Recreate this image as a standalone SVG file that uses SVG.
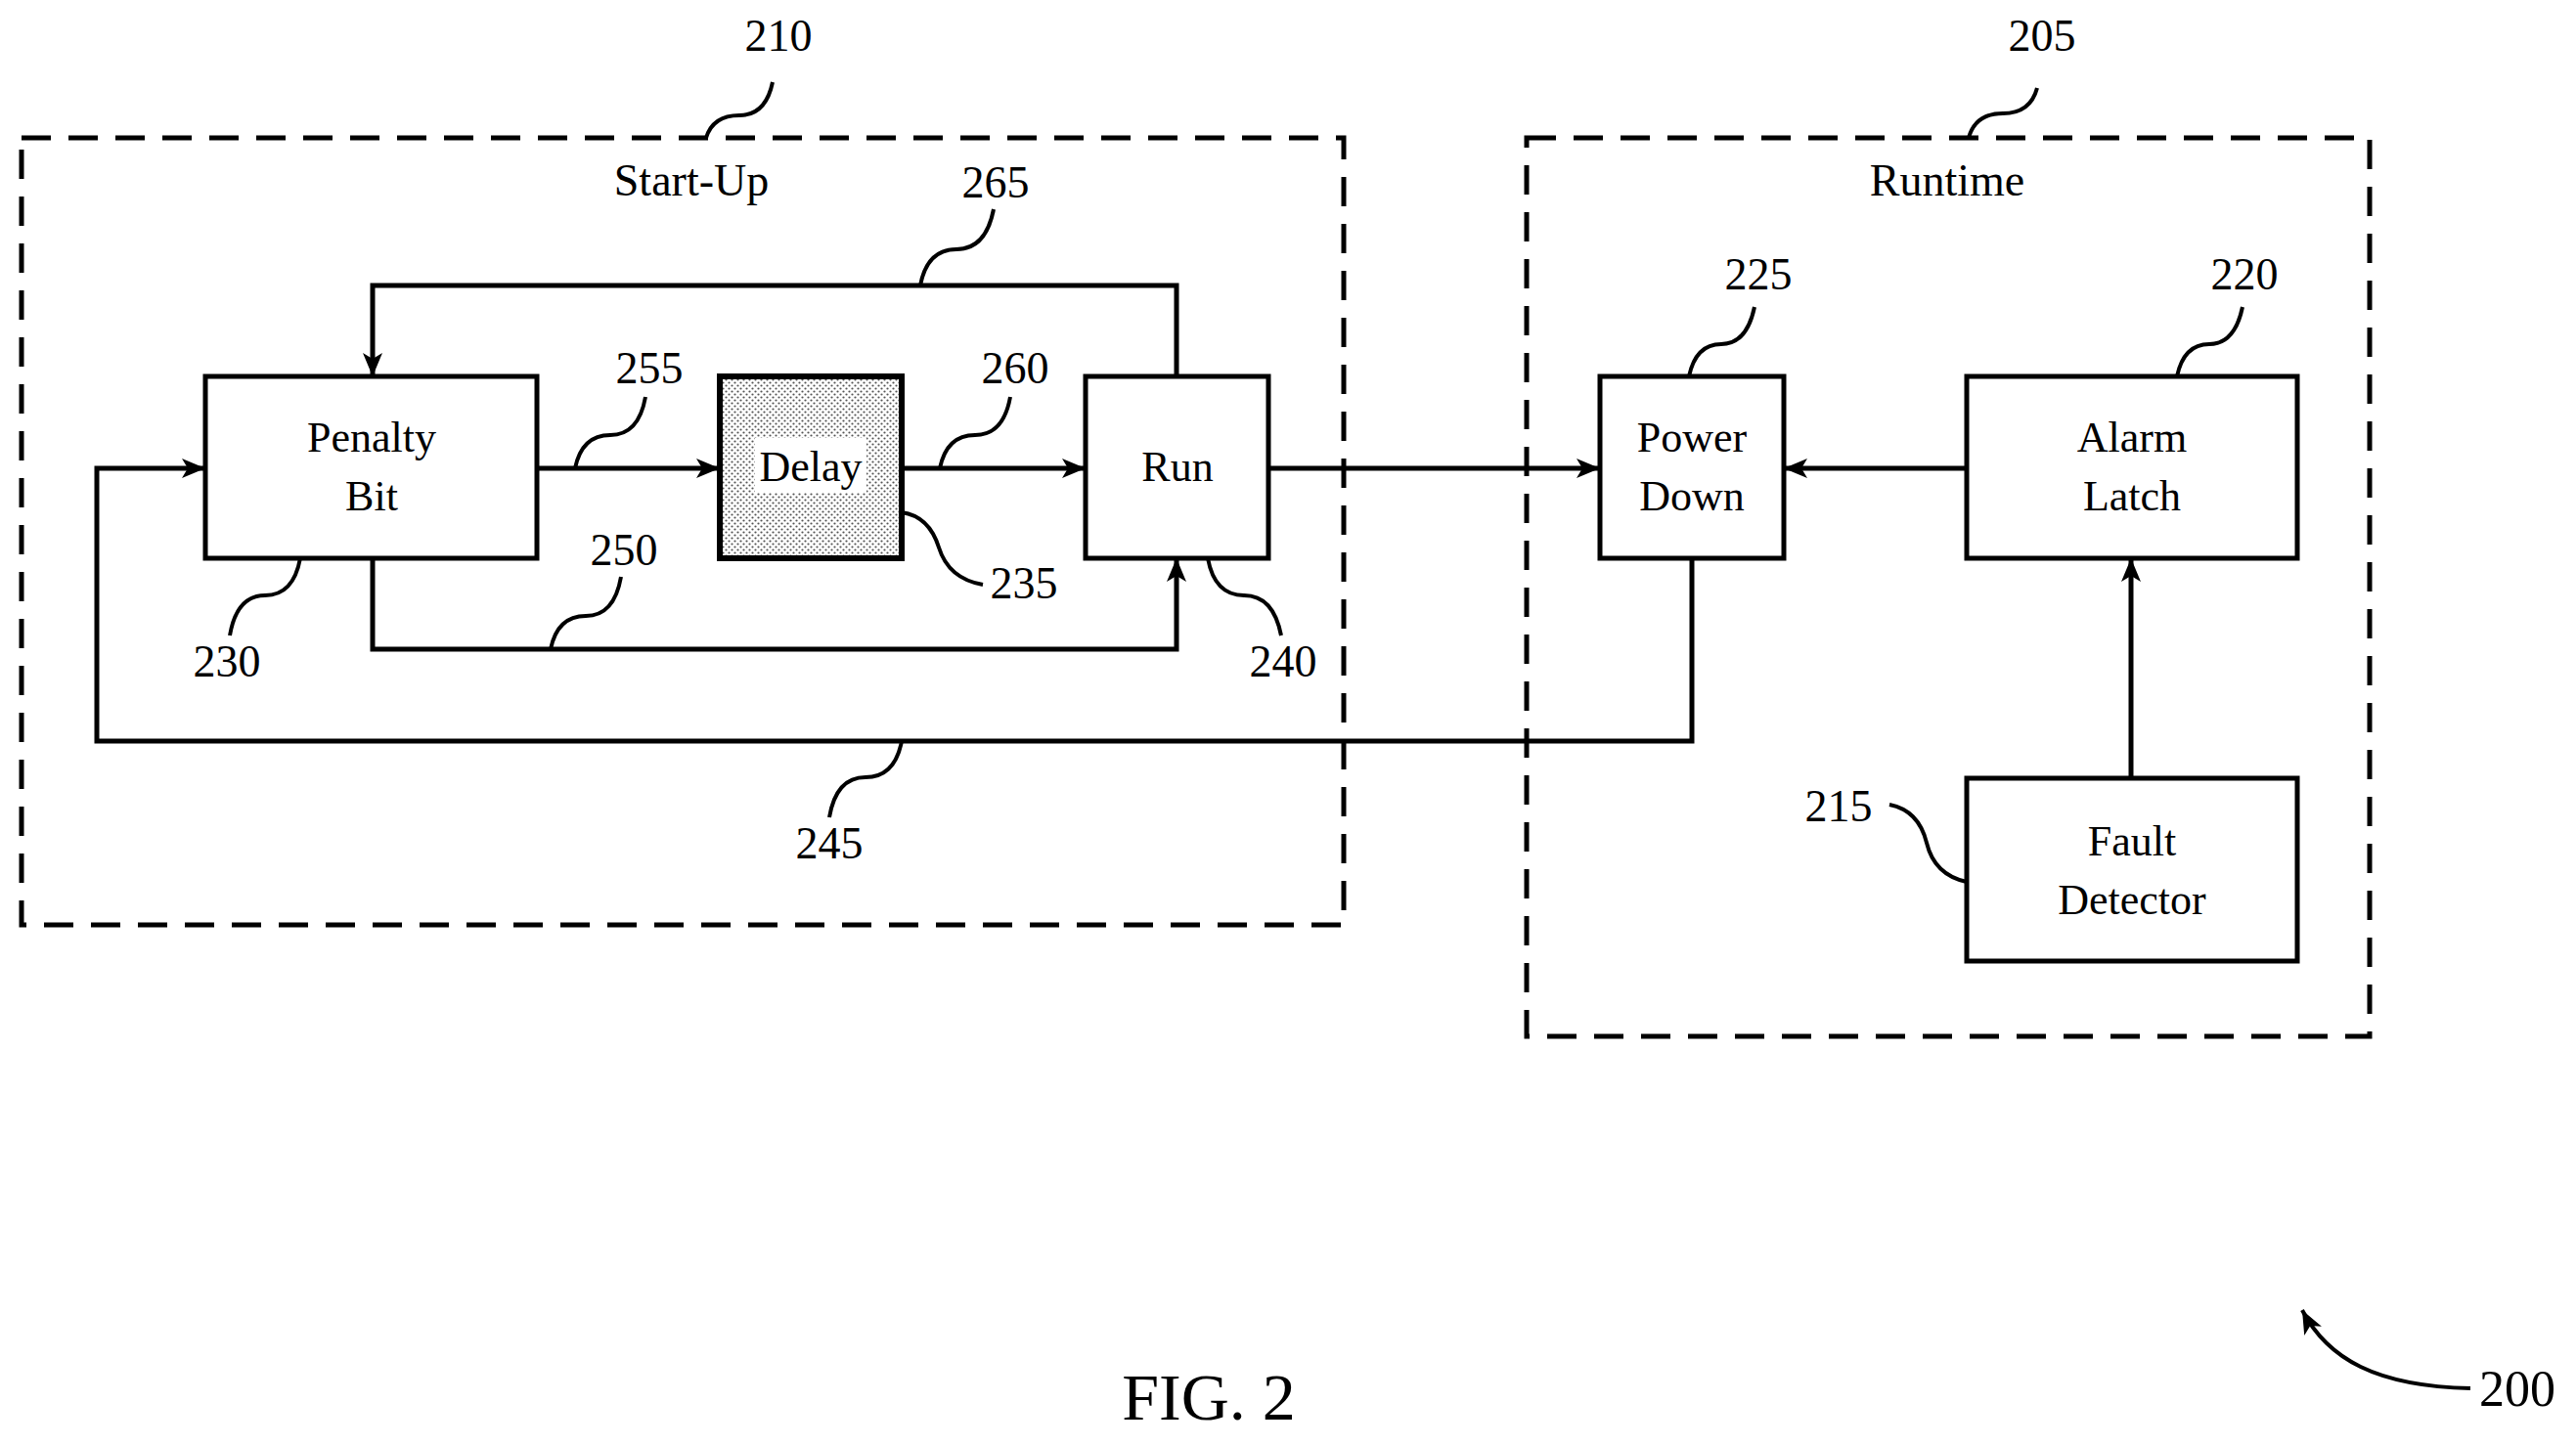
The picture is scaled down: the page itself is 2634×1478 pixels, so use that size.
<svg xmlns="http://www.w3.org/2000/svg" width="2634" height="1478" viewBox="0 0 2634 1478">
<style>
text{font-family:"Liberation Serif",serif;fill:#000}
.n{font-size:46px;text-anchor:middle}
.b{font-size:44px;text-anchor:middle}
.box{fill:#fff;stroke:#000;stroke-width:5}
.ln{fill:none;stroke:#000;stroke-width:5}
.ld{fill:none;stroke:#000;stroke-width:4}
.grp{fill:none;stroke:#000;stroke-width:5;stroke-dasharray:30 18}
</style>
<defs>
<marker id="ar" markerWidth="10" markerHeight="10" refX="9" refY="5" orient="auto" markerUnits="userSpaceOnUse" viewBox="0 0 10 10"><path d="M0,0 L10,5 L0,10 L3,5 z" fill="#000"/></marker>
<marker id="a" viewBox="0 0 24 20" refX="24" refY="10" markerWidth="24" markerHeight="20" orient="auto" markerUnits="userSpaceOnUse"><path d="M0,0 L24,10 L0,20 L6,10 z" fill="#000"/></marker>
<pattern id="dots" width="6" height="6" patternUnits="userSpaceOnUse"><rect width="6" height="6" fill="#fff"/><circle cx="1.5" cy="1.5" r="1.1" fill="#555"/><circle cx="4.5" cy="4.5" r="1.1" fill="#555"/></pattern>
</defs>
<g id="group-210"><rect class="grp" x="22" y="141" width="1352" height="805"/><text class="n" x="707" y="200">Start-Up</text></g>
<g id="group-205"><rect class="grp" x="1561" y="141" width="862" height="919"/><text class="n" x="1991" y="200">Runtime</text></g>
<g id="connectors">
<path class="ln" d="M549,479 H736" marker-end="url(#a)"/>
<path class="ln" d="M922,479 H1110" marker-end="url(#a)"/>
<path class="ln" d="M1297,479 H1636" marker-end="url(#a)"/>
<path class="ln" d="M2011,479 H1824" marker-end="url(#a)"/>
<path class="ln" d="M2179,796 V571" marker-end="url(#a)"/>
<path class="ln" d="M1203,385 V292 H381 V385" marker-end="url(#a)"/>
<path class="ln" d="M381,571 V664 H1203 V571" marker-end="url(#a)"/>
<path class="ln" d="M1730,571 V758 H99 V479 H210" marker-end="url(#a)"/>
</g>
<g id="node-230"><rect class="box" x="210" y="385" width="339" height="186"/><text class="b" x="380" y="462">Penalty</text><text class="b" x="380" y="522">Bit</text></g>
<g id="node-235"><rect x="736" y="385" width="186" height="186" fill="url(#dots)" stroke="#000" stroke-width="6"/><rect x="772" y="448" width="114" height="56" fill="#fff"/><text class="b" x="829" y="492">Delay</text></g>
<g id="node-240"><rect class="box" x="1110" y="385" width="187" height="186"/><text class="b" x="1204" y="492">Run</text></g>
<g id="node-225"><rect class="box" x="1636" y="385" width="188" height="186"/><text class="b" x="1730" y="462">Power</text><text class="b" x="1730" y="522">Down</text></g>
<g id="node-220"><rect class="box" x="2011" y="385" width="338" height="186"/><text class="b" x="2180" y="462">Alarm</text><text class="b" x="2180" y="522">Latch</text></g>
<g id="node-215"><rect class="box" x="2011" y="796" width="338" height="187"/><text class="b" x="2180" y="875">Fault</text><text class="b" x="2180" y="935">Detector</text></g>
<g id="leaders">
<path class="ld" d="M722,141 Q729,118 756,118 T790,84"/><text class="n" x="796" y="52">210</text>
<path class="ld" d="M941,292 Q948,255 978,255 T1016,214"/><text class="n" x="1018" y="202">265</text>
<path class="ld" d="M588,479 Q595,445 624,445 T660,406"/><text class="n" x="664" y="392">255</text>
<path class="ld" d="M961,479 Q968,445 997,445 T1033,406"/><text class="n" x="1038" y="392">260</text>
<path class="ld" d="M563,664 Q570,630 599,630 T635,590"/><text class="n" x="638" y="578">250</text>
<path class="ld" d="M307,571 Q300,609 271,609 T235,650"/><text class="n" x="232" y="692">230</text>
<path class="ld" d="M922,524 Q950,528 960,560 T1005,598"/><text class="n" x="1047" y="612">235</text>
<path class="ld" d="M1235,571 Q1242,609 1272,609 T1310,650"/><text class="n" x="1312" y="692">240</text>
<path class="ld" d="M922,758 Q915,795 885,795 T848,836"/><text class="n" x="848" y="878">245</text>
<path class="ld" d="M1727,385 Q1734,352 1760,352 T1794,314"/><text class="n" x="1798" y="296">225</text>
<path class="ld" d="M2226,385 Q2233,352 2259,352 T2293,314"/><text class="n" x="2295" y="296">220</text>
<path class="ld" d="M2011,902 Q1978,895 1970,862 T1932,823"/><text class="n" x="1880" y="840">215</text>
<path class="ld" d="M2013,141 Q2020,116 2048,116 T2083,90"/><text class="n" x="2088" y="52">205</text>
</g>
<g id="figure-label">
<text x="1236" y="1452" style="font-size:68px;text-anchor:middle">FIG. 2</text>
<text class="n" x="2574" y="1438" style="font-size:52px">200</text>
<path class="ld" d="M2526,1420 C2430,1418 2380,1390 2354,1340" marker-end="url(#a)"/>
</g>
</svg>
